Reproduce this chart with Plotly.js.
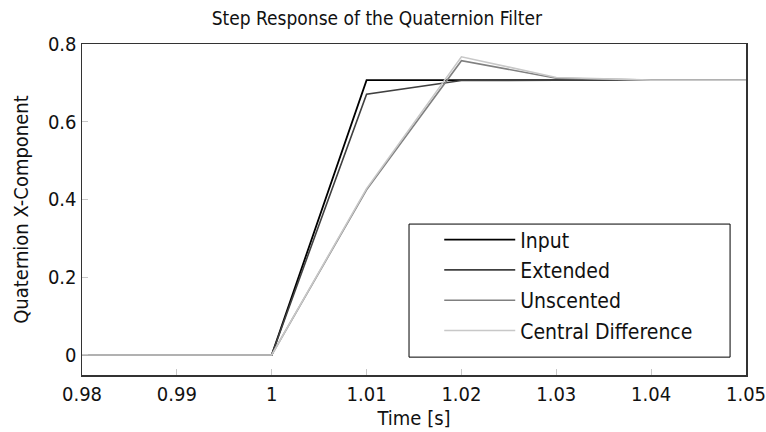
<!DOCTYPE html>
<html>
<head>
<meta charset="utf-8">
<script src="https://cdn.plot.ly/plotly-3.0.1.min.js"></script>
<style>html,body{margin:0;padding:0;background:#fff;}#chart{width:766px;height:432px;}</style>
</head>
<body>
<div id="chart"></div>
<script>
const time = [0.98, 0.99, 1.00, 1.01, 1.02, 1.03, 1.04, 1.05];
const inputVals = [0, 0, 0, 0.707, 0.707, 0.707, 0.707, 0.707];
const extendedVals = [0, 0, 0, 0.671, 0.706, 0.707, 0.707, 0.707];
const unscentedVals = [0, 0, 0, 0.425, 0.757, 0.712, 0.707, 0.707];
const centralVals = [0, 0, 0, 0.428, 0.767, 0.714, 0.707, 0.707];
const seriesNames = ["Input", "Extended", "Unscented", "Central Difference"];
const seriesColors = ["#000000", "#404040", "#808080", "#c8c8c8"];
const xTicks = [0.98, 0.99, 1, 1.01, 1.02, 1.03, 1.04, 1.05];
const xTickText = ["0.98", "0.99", "1", "1.01", "1.02", "1.03", "1.04", "1.05"];
const yTicks = [0, 0.2, 0.4, 0.6, 0.8];
const yTickText = ["0", "0.2", "0.4", "0.6", "0.8"];

const FONT = "DejaVu Sans Condensed, Liberation Sans Narrow, DejaVu Sans, sans-serif";
const allVals = [inputVals, extendedVals, unscentedVals, centralVals];
const traces = allVals.map((v, i) => ({
  x: time, y: v, type: "scatter", mode: "lines", name: seriesNames[i],
  line: {color: seriesColors[i], width: i === 0 ? 1.8 : 1.6}
}));

const layout = {
  width: 766, height: 432,
  margin: {l: 82, r: 20, t: 44, b: 57},
  paper_bgcolor: "#fff", plot_bgcolor: "#fff",
  font: {family: FONT, size: 20, color: "#111"},
  title: {text: "Step Response of the Quaternion Filter", x: 0.492, xanchor: "center", y: 0.958, yanchor: "middle", font: {size: 19, family: FONT, color: "#111"}},
  xaxis: {
    range: [0.98, 1.05], tickvals: xTicks, ticktext: xTickText,
    ticks: "inside", ticklen: 6, tickcolor: "#c8c8c8", tickwidth: 1,
    showgrid: false, zeroline: false, showline: true, linecolor: "#333", linewidth: 1.5, mirror: true,
    title: {text: "Time [s]", standoff: 2, font: {size: 20}},
    tickfont: {size: 20}, ticklabeloverflow: "allow"
  },
  yaxis: {
    range: [-0.0515, 0.8], tickvals: yTicks, ticktext: yTickText,
    ticks: "inside", ticklen: 6, tickcolor: "#c8c8c8", tickwidth: 1,
    showgrid: false, zeroline: false, showline: true, linecolor: "#333", linewidth: 1.5, mirror: true,
    title: {text: "Quaternion X-Component", standoff: 14, font: {size: 20}},
    tickfont: {size: 20}, ticklabeloverflow: "allow"
  },
  shapes: [{
    type: "rect", xref: "paper", yref: "paper", layer: "above",
    x0: 0.4925, x1: 0.976, y0: 0.054, y1: 0.456,
    line: {color: "#000", width: 1}, fillcolor: "#fff"
  }],
  showlegend: true,
  legend: {
    x: 0.538, y: 0.47, xanchor: "left", yanchor: "top",
    borderwidth: 0, bgcolor: "rgba(0,0,0,0)",
    font: {size: 21}, itemwidth: 71, tracegroupgap: 0,
    traceorder: "normal"
  }
};
Plotly.newPlot("chart", traces, layout, {displayModeBar: false, staticPlot: true});
</script>
</body>
</html>
